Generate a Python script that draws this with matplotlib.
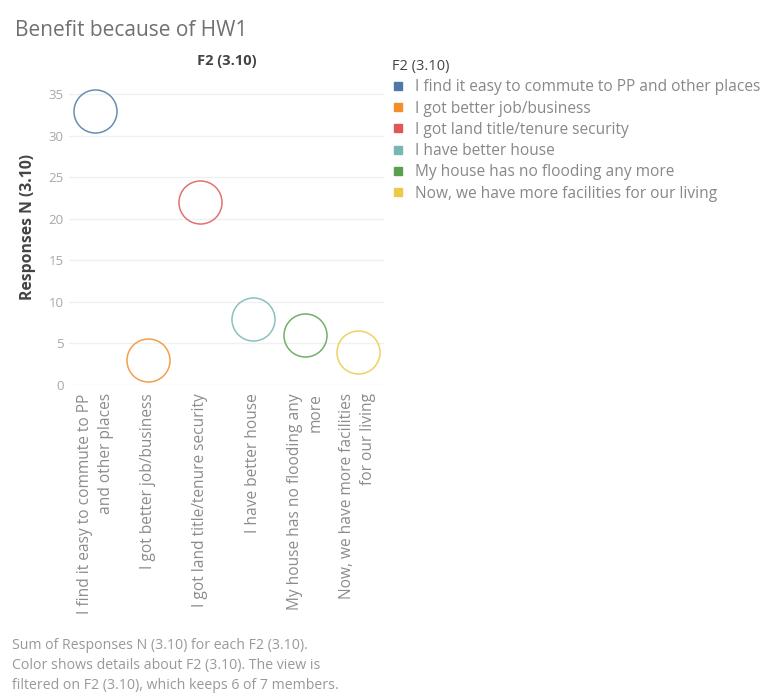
import matplotlib
matplotlib.use("Agg")
import matplotlib.pyplot as plt
from matplotlib.lines import Line2D

plt.rcParams['font.family'] = ['Open Sans', 'DejaVu Sans']

categories = [
    "I find it easy to commute to PP and other places",
    "I got better job/business",
    "I got land title/tenure security",
    "I have better house",
    "My house has no flooding any more",
    "Now, we have more facilities for our living",
]
tick_labels = [
    "I find it easy to commute to PP\nand other places",
    "I got better job/business",
    "I got land title/tenure security",
    "I have better house",
    "My house has no flooding any\nmore",
    "Now, we have more facilities\nfor our living",
]
responses = [33, 3, 22, 8, 6, 4]
colors = ["#4e79a7", "#f28e2b", "#e15759", "#76b7b2", "#59a14f", "#edc948"]
y_ticks = [0, 5, 10, 15, 20, 25, 30, 35]

fig = plt.figure(figsize=(7.71, 6.93), dpi=100)
ax = fig.add_axes([69 / 771, 1 - 385 / 693, 315 / 771, 303 / 693])

x = list(range(len(categories)))
for xi, yi, c in zip(x, responses, colors):
    ax.plot(xi, yi, marker="o", markersize=31, markerfacecolor="none",
            markeredgecolor=c, markeredgewidth=1.1, linestyle="none",
            alpha=0.85, clip_on=False, zorder=3)

ax.set_xlim(-0.5, len(categories) - 0.5)
ax.set_ylim(0, 36.5)
ax.set_yticks(y_ticks)
ax.set_yticklabels([str(t) for t in y_ticks], color="#a8a8a8", fontsize=9.5)
ax.set_xticks(x)
ax.set_xticklabels(tick_labels, rotation=90, ha="center", va="top",
                   multialignment="right", color="#8c8c8c", fontsize=11.2,
                   linespacing=1.4)
ax.tick_params(axis="both", length=0)
ax.tick_params(axis="y", pad=4)
ax.tick_params(axis="x", pad=6)
ax.grid(axis="y", color="#f0f0f0", linewidth=1)
ax.set_axisbelow(True)
for s in ax.spines.values():
    s.set_visible(False)

ax.set_ylabel("Responses N (3.10)", fontsize=11.3, fontweight="bold", color="#444444")
ax.yaxis.set_label_coords(-0.105, 0.52)
ax.set_title("F2 (3.10)", fontsize=10.5, fontweight="bold", color="#444444", pad=12)

fig.text(15 / 771, 1 - 30 / 693, "Benefit because of HW1", fontsize=15,
         color="#707070", va="center", ha="left")

handles = [Line2D([0], [0], marker="s", linestyle="none", markersize=6,
                  markerfacecolor=c, markeredgecolor=c) for c in colors]
leg = fig.legend(handles, categories, title="F2 (3.10)", loc="upper left",
                 bbox_to_anchor=(392 / 771, 1 - 59 / 693), frameon=False,
                 fontsize=11.2, title_fontsize=10.5, alignment="left",
                 handlelength=0.75, handletextpad=0.75, labelspacing=0.34,
                 borderaxespad=0, borderpad=0)
leg.get_title().set_color("#444444")
for t in leg.get_texts():
    t.set_color("#888888")

footer = ("Sum of Responses N (3.10) for each F2 (3.10).\n"
          "Color shows details about F2 (3.10). The view is\n"
          "filtered on F2 (3.10), which keeps 6 of 7 members.")
fig.text(12 / 771, 1 - 638 / 693, footer, fontsize=10.2, color="#999999",
         va="top", ha="left", linespacing=1.45)

fig.savefig("out.png", dpi=100)
